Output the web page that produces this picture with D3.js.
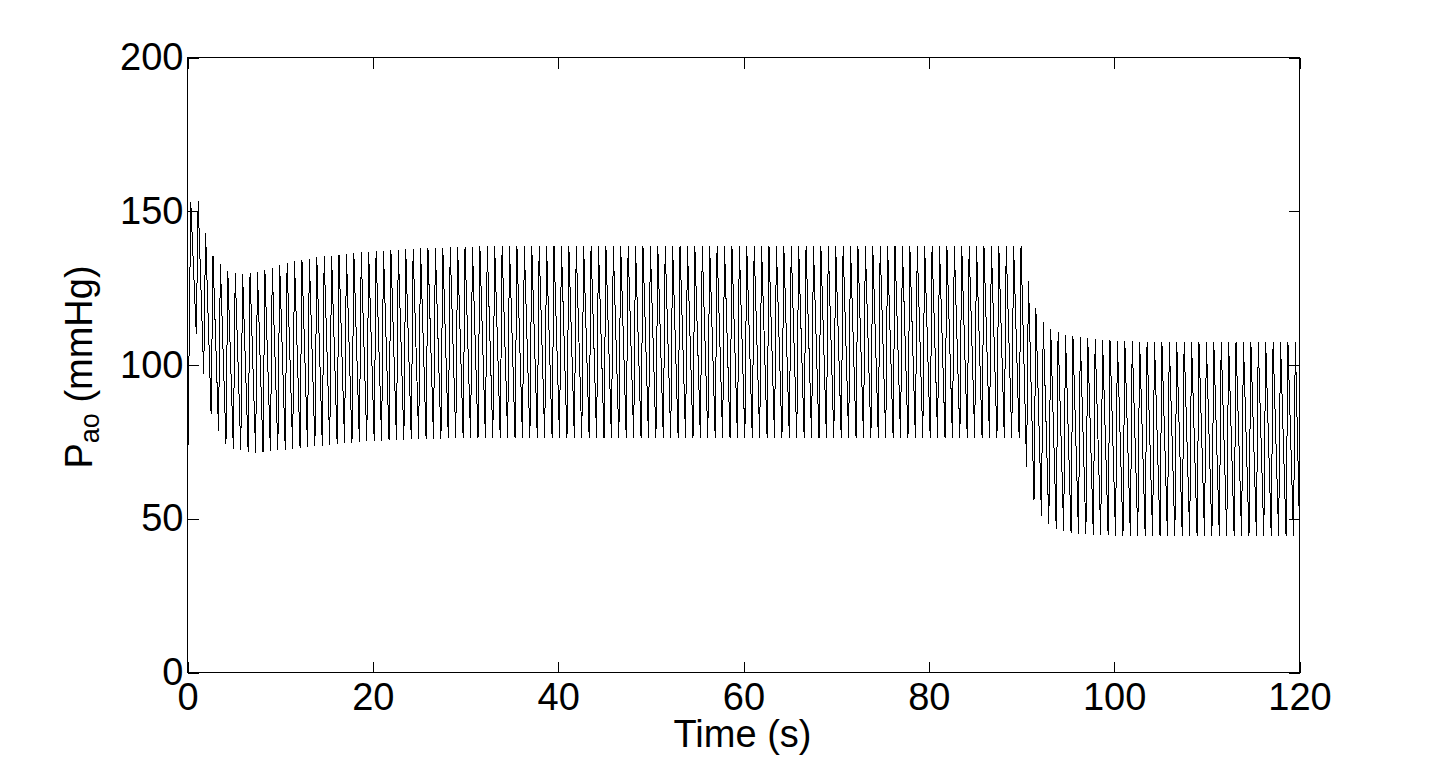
<!DOCTYPE html>
<html>
<head>
<meta charset="utf-8">
<script src="https://cdn.jsdelivr.net/npm/d3@7/dist/d3.min.js"></script>
<style>
  html, body { margin: 0; padding: 0; background: #fff; }
  svg { display: block; }
  text { font-family: "Liberation Sans", Arial, Helvetica, sans-serif; fill: #000; }
</style>
</head>
<body>
<svg id="chart" width="1435" height="760"></svg>
<script>
// ---------------- data ----------------
const xTicks = [0, 20, 40, 60, 80, 100, 120];
const yTicks = [0, 50, 100, 150, 200];
const xLabel = "Time (s)";
const yLabelMain = "P";
const yLabelSub = "ao";
const yLabelUnit = " (mmHg)";

// beat timing (s): period and time of first systolic peak
const beatPeriod = 0.8;
const firstPeakTime = 0.35;
const riseTime = 0.2;
const endTime = 120;
const endValue = 47;

// systolic peak of each beat (mmHg), beat 0 .. 149
const peaks = [
  153, 153.3, 143, 135.6, 132.7, 130.6, 130, 129.5, 129.8, 130.4, 131, 131.7, 132.4,
  133.1, 133.7, 134.2, 134.6, 135, 135.3, 135.6, 135.9, 136.1, 136.4, 136.6, 136.8, 137,
  137.2, 137.4, 137.5, 137.7, 137.8, 137.9, 138, 138.1, 138.2, 138.3, 138.4, 138.5, 138.5,
  138.6, 138.6,
  138.7, 138.7, 138.7, 138.7, 138.7, 138.7, 138.7, 138.7, 138.7, 138.7, 138.7, 138.7,
  138.7, 138.7, 138.7, 138.7, 138.7, 138.7, 138.7, 138.7, 138.7, 138.7, 138.7, 138.7,
  138.7, 138.7, 138.7, 138.7, 138.7, 138.7, 138.7, 138.7, 138.7, 138.7, 138.7, 138.7,
  138.7, 138.7, 138.7, 138.7, 138.7, 138.7, 138.7, 138.7, 138.7, 138.7, 138.7, 138.7,
  138.7, 138.7, 138.7, 138.7, 138.7, 138.7, 138.7, 138.7, 138.7, 138.7, 138.7, 138.7,
  138.7, 138.7, 138.7, 138.7, 138.7, 138.7, 138.7, 138.7, 138.7, 138.7, 138.7, 138.7,
  127.4, 118.5, 114, 111.8, 110.6, 109.7, 109.3, 109, 108.7, 108.4, 108.2, 108, 107.9,
  107.8, 107.7,
  107.6, 107.6, 107.6, 107.6, 107.6, 107.6, 107.6, 107.6, 107.6, 107.6, 107.6,
  107.6, 107.6, 107.6, 107.6, 107.6, 107.6, 107.6, 107.6, 107.6, 107.6, 107.6
];

// diastolic minimum just before each beat (mmHg), beat 0 .. 149 (beat 0 = start value)
const troughs = [
  59, 110, 97, 84, 78.7, 74.4, 72.7, 72.2, 71.6, 71.5, 71.6,
  72, 72.2, 72.5, 72.7, 73, 73.3, 73.5, 73.8, 74.1, 74.4, 74.6, 74.7, 75,
  75.2, 75.3, 75.4, 75.5, 75.6, 75.7, 75.8, 75.9, 75.9, 76, 76, 76.1,
  76.2, 76.2, 76.2, 76.2, 76.2, 76.2, 76.2, 76.2, 76.2, 76.2, 76.2, 76.2,
  76.2, 76.2, 76.2, 76.2, 76.2, 76.2, 76.2, 76.2, 76.2, 76.2, 76.2, 76.2,
  76.2, 76.2, 76.2, 76.2, 76.2, 76.2, 76.2, 76.2, 76.2, 76.2, 76.2, 76.2,
  76.2, 76.2, 76.2, 76.2, 76.2, 76.2, 76.2, 76.2, 76.2, 76.2, 76.2, 76.2,
  76.2, 76.2, 76.2, 76.2, 76.2, 76.2, 76.2, 76.2, 76.2, 76.2, 76.2, 76.2,
  76.2, 76.2, 76.2, 76.2, 76.2, 76.2, 76.2, 76.2, 76.2, 76.2, 76.2, 76.2,
  76.2, 76.2, 76.2, 76.2, 76.2,
  66.8, 56.1, 51, 48.3, 46.7, 45.9, 45.4, 45.1, 45, 44.8, 44.7, 44.6,
  44.5, 44.5, 44.5, 44.5, 44.5, 44.5, 44.5, 44.5, 44.5, 44.5, 44.5, 44.5,
  44.5, 44.5, 44.5, 44.5, 44.5, 44.5, 44.5, 44.5, 44.5, 44.5, 44.5, 44.5, 44.5
];

// ---------------- layout ----------------
const W = 1435, H = 760;
const L = 187.5, R = 1299.5, T = 57.5, B = 672.5;
const fontSize = 38;
const tickLen = 11;

const svg = d3.select("#chart");
svg.append("rect").attr("width", W).attr("height", H).attr("fill", "#fff");

const x = d3.scaleLinear().domain([0, 120]).range([L, R]);
const y = d3.scaleLinear().domain([0, 200]).range([B, T]);

// build waveform points: trough -> peak -> trough ...
const pts = [];
for (let k = 0; k < peaks.length; k++) {
  const tp = firstPeakTime + k * beatPeriod;
  const tt = k === 0 ? 0 : tp - riseTime;
  pts.push([tt, troughs[k]]);
  pts.push([tp, peaks[k]]);
}
pts.push([endTime, endValue]);

const line = d3.line().x(d => x(d[0])).y(d => y(d[1]));

svg.append("defs").append("clipPath").attr("id", "clip")
  .append("rect").attr("x", L).attr("y", T).attr("width", R - L).attr("height", B - T);

svg.append("path")
  .datum(pts)
  .attr("d", line)
  .attr("fill", "none")
  .attr("stroke", "#000")
  .attr("stroke-width", 1)
  .attr("shape-rendering", "crispEdges")
  .attr("clip-path", "url(#clip)");

// axes
function styleAxis(g, showText) {
  g.select(".domain").remove();
  g.selectAll(".tick line").attr("stroke", "#000").attr("stroke-width", 1).attr("shape-rendering", "crispEdges");
  g.selectAll(".tick text").attr("font-size", fontSize)
    .attr("font-family", '"Liberation Sans", Arial, Helvetica, sans-serif')
    .attr("fill", "#000");
  if (!showText) g.selectAll(".tick text").remove();
}

const gB = svg.append("g").attr("transform", `translate(0,${B})`)
  .call(d3.axisBottom(x).tickValues(xTicks).tickFormat(d3.format("d"))
    .tickSizeInner(-tickLen).tickSizeOuter(0).tickPadding(11));
styleAxis(gB, true);

const gT = svg.append("g").attr("transform", `translate(0,${T})`)
  .call(d3.axisTop(x).tickValues(xTicks).tickSizeInner(-tickLen).tickSizeOuter(0));
styleAxis(gT, false);

const gL = svg.append("g").attr("transform", `translate(${L},0)`)
  .call(d3.axisLeft(y).tickValues(yTicks).tickFormat(d3.format("d"))
    .tickSizeInner(-tickLen).tickSizeOuter(0).tickPadding(4));
styleAxis(gL, true);

const gR = svg.append("g").attr("transform", `translate(${R},0)`)
  .call(d3.axisRight(y).tickValues(yTicks).tickSizeInner(-tickLen).tickSizeOuter(0));
styleAxis(gR, false);

// box
svg.append("rect")
  .attr("x", L).attr("y", T).attr("width", R - L).attr("height", B - T)
  .attr("fill", "none").attr("stroke", "#000").attr("stroke-width", 1)
  .attr("shape-rendering", "crispEdges");

// x label
svg.append("text")
  .attr("x", (L + R) / 2 - 1).attr("y", 747)
  .attr("text-anchor", "middle").attr("font-size", fontSize)
  .text(xLabel);

// y label with subscript
const yl = svg.append("text")
  .attr("transform", `translate(92,367) rotate(-90)`)
  .attr("text-anchor", "middle").attr("font-size", fontSize);
yl.append("tspan").text(yLabelMain);
yl.append("tspan").attr("font-size", 27).attr("dy", 7).text(yLabelSub);
yl.append("tspan").attr("dy", -7).text(yLabelUnit);
</script>
</body>
</html>
